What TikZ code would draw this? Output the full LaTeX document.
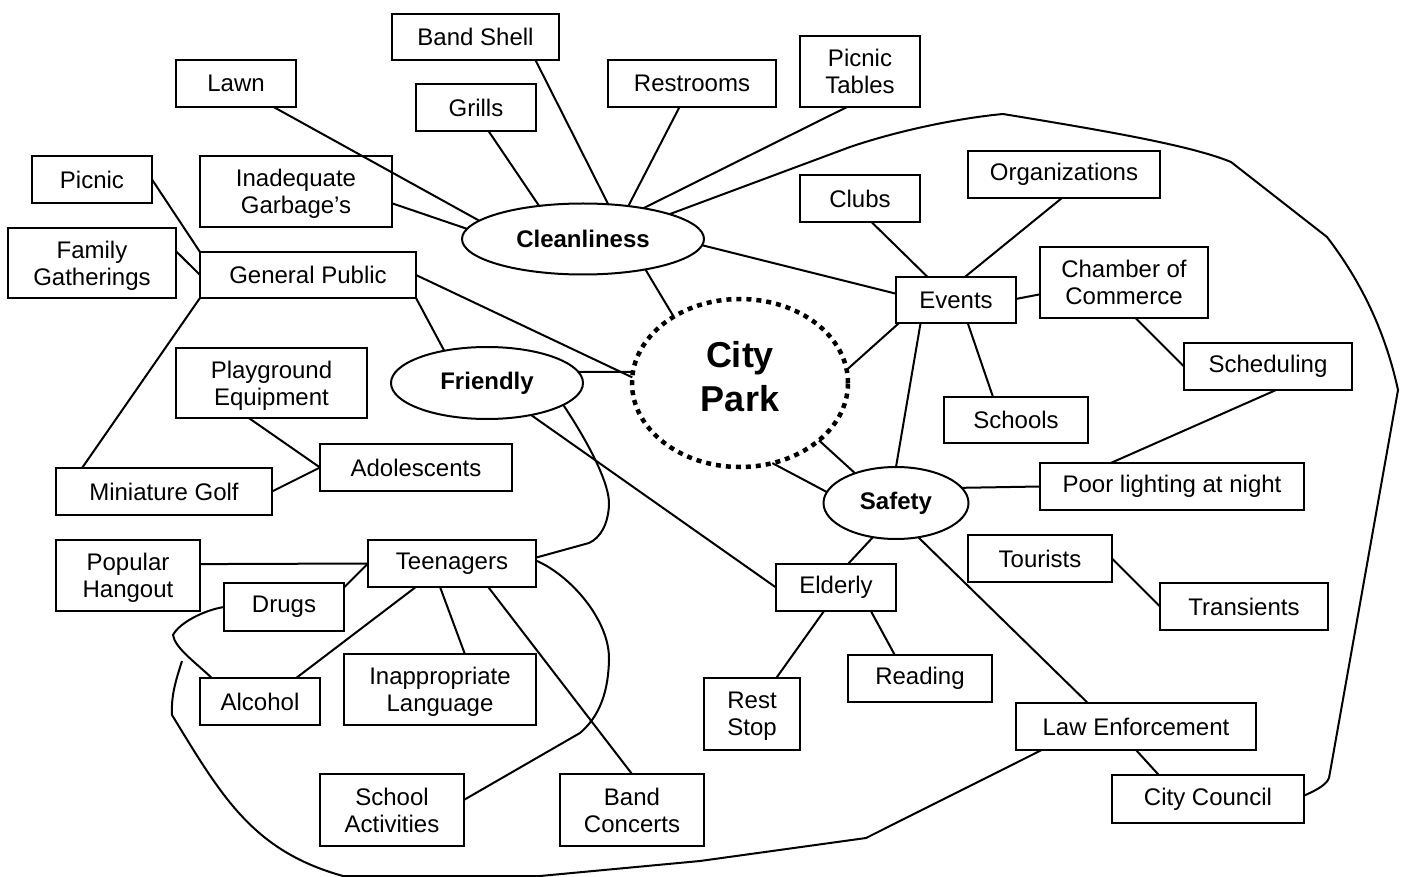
\documentclass[tikz,border=0pt]{standalone}
\usepackage{fontspec}
\setmainfont{Liberation Sans}
\usetikzlibrary{shapes.geometric}

\begin{document}
\begin{tikzpicture}[x=1pt,y=-1pt,line width=2pt]
  \tikzstyle{box} = [draw,rectangle,inner sep=0pt,outer sep=0pt,align=center,
    font=\fontsize{24}{27}\selectfont]
  \tikzstyle{twoline} = [box,text depth=-5pt]
  \tikzstyle{bubble} = [draw,ellipse,inner sep=0pt,outer sep=0pt,
    font=\fontsize{24}{27}\selectfont\bfseries]
  \tikzstyle{hub} = [draw,ellipse,inner sep=0pt,outer sep=0pt,align=center,text depth=13pt,
    line width=4.5pt,dash pattern=on 5pt off 5pt,font=\fontsize{36}{44}\selectfont\bfseries]
  \useasboundingbox (0,0) rectangle (1401,877);

  % centre
  \node[hub,minimum width=216pt,minimum height=168pt] (park) at (740,383) {City\\Park};
  \node[bubble,minimum width=242pt,minimum height=71pt] (clean) at (583,239) {Cleanliness};
  \node[bubble,minimum width=192pt,minimum height=72pt] (friendly) at (487,383) {Friendly};
  \node[bubble,minimum width=145pt,minimum height=72pt] (safety) at (896,503) {Safety};

  % cleanliness
  \node[box,minimum width=167pt,minimum height=46pt] (bandshell) at (475.5,37) {Band Shell};
  \node[box,minimum width=120pt,minimum height=47pt] (lawn) at (236,83.5) {Lawn};
  \node[box,minimum width=120pt,minimum height=47pt] (grills) at (476,107.5) {Grills};
  \node[box,minimum width=168pt,minimum height=47pt] (restrooms) at (692,83.5) {Restrooms};
  \node[twoline,minimum width=120pt,minimum height=71pt] (tables) at (860,71.5) {Picnic\\Tables};
  \node[twoline,minimum width=192pt,minimum height=71pt] (garbage) at (296,191.5) {Inadequate\\Garbage’s};

  % general public
  \node[box,minimum width=120pt,minimum height=47pt] (picnic) at (92,179.5) {Picnic};
  \node[twoline,minimum width=168pt,minimum height=70pt] (family) at (92,263) {Family\\Gatherings};
  \node[box,minimum width=216pt,minimum height=46pt] (public) at (308,275) {General Public};
  \node[twoline,minimum width=191pt,minimum height=70pt] (playground) at (271.5,383) {Playground\\Equipment};
  \node[box,minimum width=192pt,minimum height=47pt] (adolescents) at (416,467.5) {Adolescents};
  \node[box,minimum width=216pt,minimum height=47pt] (golf) at (164,491.5) {Miniature Golf};

  % teenagers
  \node[twoline,minimum width=144pt,minimum height=71pt] (hangout) at (128,575.5) {Popular\\Hangout};
  \node[box,minimum width=168pt,minimum height=47pt] (teens) at (452,563.5) {Teenagers};
  \node[box,minimum width=120pt,minimum height=48pt] (drugs) at (284,607) {Drugs};
  \node[box,minimum width=120pt,minimum height=47pt] (alcohol) at (260,701.5) {Alcohol};
  \node[twoline,minimum width=192pt,minimum height=71pt] (language) at (440,689.5) {Inappropriate\\Language};
  \node[twoline,minimum width=144pt,minimum height=72pt] (schoolact) at (392,810) {School\\Activities};
  \node[twoline,minimum width=144pt,minimum height=72pt] (concerts) at (632,810) {Band\\Concerts};

  % events
  \node[box,minimum width=120pt,minimum height=47pt] (clubs) at (860,198.5) {Clubs};
  \node[box,minimum width=192pt,minimum height=47pt] (orgs) at (1064,174.5) {Organizations};
  \node[box,minimum width=120pt,minimum height=46pt] (events) at (956,300) {Events};
  \node[twoline,minimum width=168pt,minimum height=71pt] (chamber) at (1124,282.5) {Chamber of\\Commerce};
  \node[box,minimum width=168pt,minimum height=47pt] (scheduling) at (1268,366.5) {Scheduling};
  \node[box,minimum width=144pt,minimum height=46pt] (schools) at (1016,420) {Schools};

  % safety
  \node[box,minimum width=264pt,minimum height=47pt] (lighting) at (1172,486.5) {Poor lighting at night};
  \node[box,minimum width=144pt,minimum height=47pt] (tourists) at (1040,558.5) {Tourists};
  \node[box,minimum width=168pt,minimum height=47pt] (transients) at (1244,606.5) {Transients};
  \node[box,minimum width=120pt,minimum height=47pt] (elderly) at (836,587.5) {Elderly};
  \node[twoline,minimum width=96pt,minimum height=72pt] (reststop) at (752,714) {Rest\\Stop};
  \node[box,minimum width=144pt,minimum height=47pt] (reading) at (920,678.5) {Reading};
  \node[box,minimum width=240pt,minimum height=47pt] (law) at (1136,726.5) {Law Enforcement};
  \node[box,minimum width=192pt,minimum height=48pt] (council) at (1208,799) {City Council};

  \path (lawn.-32) edge (clean.170);
  \path (grills.-62) edge (clean.143);
  \path (bandshell.-21) edge (clean.54);
  \path (restrooms.-118) edge (clean.36);
  \path (tables.-110) edge (clean.27);
  \path (garbage.-7) edge (clean.175);
  \path (clean.-3) edge (events.174);
  \path (clean.-26) edge (park.135);

  \path (clubs.-64) edge (events.141);
  \path (orgs.-95) edge (events.69);
  \path (events.1) edge (chamber.-172);
  \path (chamber.-72) edge (scheduling.180);
  \path (events.-63) edge (schools.135);
  \path (events.-158) edge (park.7);
  \path (events.-147) edge (safety.90);
  \path (scheduling.-71) edge (lighting.159);

  \path (safety.13) edge (lighting.180);
  \path (park.-68) edge (safety.171);
  \path (park.-36) edge (safety.144);
  \path (safety.-124) edge (elderly.63);
  \path (safety.-57) edge (law.154);
  \path (law.-90) edge (council.154);
  \path (tourists.0) edge (transients.180);
  \path (elderly.-117) edge (reststop.56);
  \path (elderly.-34) edge (reading.137);
  \path (friendly.-36) edge (elderly.180);

  \path (picnic.0) edge (public.north west);
  \path (family.8) edge (public.180);
  \path (public.south west) edge (golf.164);
  \path (public.south east) edge (friendly.143);
  \path (public.0) edge (park.177);
  \path (friendly.7) edge (park.174);
  \path (playground.-123) edge (adolescents.180);
  \path (golf.0) edge (adolescents.180);

  \path (hangout.9) edge (teens.180);
  \path (drugs.18) edge (teens.180);
  \path (teens.-147) edge (alcohol.33);
  \path (teens.-117) edge (language.55);
  \path (teens.-33) edge (concerts.90);

  % loops
  \draw (clean.16) -- (850,147) .. controls (900,130) and (960,118) .. (1003,114)
    .. controls (1100,130) and (1190,145) .. (1231,162) -- (1327,237)
    .. controls (1360,280) and (1385,330) .. (1398,390) -- (1329,778)
    .. controls (1326,786) and (1312,792) .. (council.2);
  \draw (law.-166) -- (866,838) -- (700,861) -- (540,876) -- (343,876)
    .. controls (253,851) and (222,797) .. (172,715)
    .. controls (171,695) and (176,680) .. (182,661);
  \draw (friendly.-16) .. controls (590,445) and (610,485) .. (609,505)
    .. controls (608,525) and (600,538) .. (589,543) -- (teens.4);
  \draw (teens.2) .. controls (570,575) and (610,620) .. (609,660)
    .. controls (608,700) and (595,720) .. (580,733) -- (schoolact.8);
  \draw (drugs.180) .. controls (205,610) and (180,622) .. (173,635)
    .. controls (175,648) and (195,662) .. (alcohol.154);
\end{tikzpicture}
\end{document}
